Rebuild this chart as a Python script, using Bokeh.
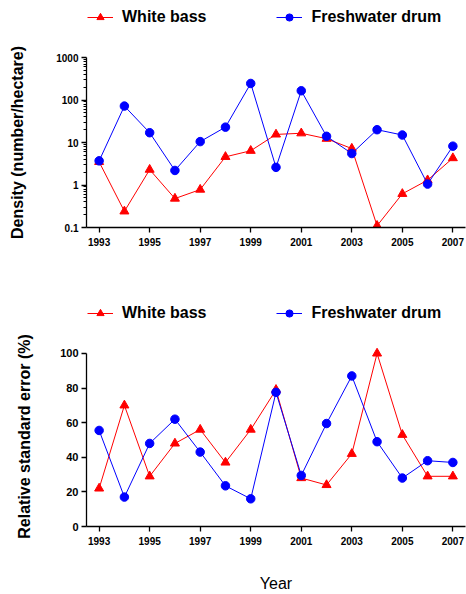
from bokeh.plotting import figure
from bokeh.models import (FixedTicker, CustomJSTickFormatter, Legend, LegendItem)
from bokeh.layouts import column
from bokeh.embed import file_html
from bokeh.resources import INLINE

years = [1993, 1994, 1995, 1996, 1997, 1998, 1999, 2000, 2001, 2002, 2003, 2004, 2005, 2006, 2007]
year_ticks = [1993, 1995, 1997, 1999, 2001, 2003, 2005, 2007]

# Density (number/hectare)
density_white_bass = [3.5, 0.24, 2.3, 0.48, 0.78, 4.6, 6.4, 15.5, 16.5, 12.3, 7.2, 0.11, 0.62, 1.3, 4.3]
density_freshwater_drum = [3.7, 72, 17, 2.2, 10.5, 23, 245, 2.6, 165, 14, 5.5, 20, 15, 1.05, 8.2]
density_ticks = [0.1, 1, 10, 100, 1000]

# Relative standard error (%)
rse_white_bass = [22, 70, 29, 48, 56, 37, 56, 79, 28, 24, 42, 100, 53, 29, 29]
rse_freshwater_drum = [55.5, 17, 48, 62, 43, 23.5, 16, 77.5, 29.5, 59.5, 87, 49, 28, 38, 37]
rse_ticks = [0, 20, 40, 60, 80, 100]

series_names = ["White bass", "Freshwater drum"]

RED = "#ff0000"
BLUE = "#0000ff"
FONT = "Liberation Sans"
W = 466


def legend_fig(height, wb, fd):
    # Holds only the legend; its renderers lie outside the visible ranges.
    f = figure(width=W, height=height, x_range=(0, 1), y_range=(0, 1),
               x_axis_location=None, y_axis_location=None,
               output_backend="svg", toolbar_location=None)
    f.min_border_left = 86
    f.min_border_right = 1
    f.min_border_top = 0
    f.min_border_bottom = 0
    f.xgrid.grid_line_color = None
    f.ygrid.grid_line_color = None
    f.outline_line_color = None
    r1 = f.line(years, wb, line_color=RED, line_width=1)
    s1 = f.scatter(years, wb, marker="triangle", fill_color=RED, line_color=RED)
    r2 = f.line(years, fd, line_color=BLUE, line_width=1)
    s2 = f.scatter(years, fd, marker="circle", fill_color=BLUE, line_color=BLUE)
    legend = Legend(items=[LegendItem(label=series_names[0], renderers=[r1, s1]),
                           LegendItem(label=series_names[1], renderers=[r2, s2])],
                    orientation="horizontal", location=(1, 0),
                    glyph_width=26, glyph_height=18, label_height=18,
                    label_standoff=9, spacing=70, padding=0, margin=0,
                    border_line_color=None, background_fill_alpha=0,
                    label_text_font=FONT, label_text_font_style="bold",
                    label_text_font_size="16px", label_text_color="black")
    f.add_layout(legend, "center")
    return f


def style(p, y_label, label_standoff, y_font_size):
    p.xaxis.ticker = FixedTicker(ticks=year_ticks)
    p.xaxis.major_label_text_font = FONT
    p.xaxis.major_label_text_font_style = "bold"
    p.xaxis.major_label_text_font_size = "10px"
    p.xaxis.major_label_standoff = 5
    p.xaxis.major_tick_in = 0
    p.xaxis.major_tick_out = 5
    p.xaxis.minor_tick_out = 0
    p.xaxis.minor_tick_in = 0
    for ax in (p.xaxis, p.yaxis):
        ax.axis_line_color = "black"
        ax.axis_line_width = 1.3
        ax.major_tick_line_color = "black"
        ax.major_tick_line_width = 1.3
        ax.major_label_text_color = "black"
    p.yaxis.major_label_text_font = FONT
    p.yaxis.major_label_text_font_style = "bold"
    p.yaxis.major_label_text_font_size = y_font_size
    p.yaxis.major_label_standoff = 3
    p.yaxis.major_tick_in = 0
    p.yaxis.major_tick_out = 5
    p.yaxis.axis_label = y_label
    p.yaxis.axis_label_text_font = FONT
    p.yaxis.axis_label_text_font_style = "bold"
    p.yaxis.axis_label_text_font_size = "16px"
    p.yaxis.axis_label_text_color = "black"
    p.yaxis.axis_label_standoff = label_standoff
    p.xgrid.grid_line_color = None
    p.ygrid.grid_line_color = None
    p.outline_line_color = None
    p.min_border_left = 86
    p.min_border_right = 1
    p.min_border_top = 31


def add_series(p, wb, fd):
    p.line(years, wb, line_color=RED, line_width=1)
    p.scatter(years, wb, marker="triangle", size=9, fill_color=RED, line_color=RED)
    p.line(years, fd, line_color=BLUE, line_width=1)
    p.scatter(years, fd, marker="circle", size=8.5, fill_color=BLUE, line_color=BLUE)


l1 = legend_fig(26, density_white_bass, density_freshwater_drum)

p1 = figure(width=W, height=254, y_axis_type="log",
            x_range=(1992.5, 2007.5), y_range=(0.1, 1000),
            output_backend="svg", toolbar_location=None)
add_series(p1, density_white_bass, density_freshwater_drum)
style(p1, "Density (number/hectare)", 27, "10px")
p1.min_border_bottom = 53
p1.yaxis.ticker = FixedTicker(ticks=density_ticks,
                              minor_ticks=[m * 10.0 ** e for e in range(-1, 3) for m in range(2, 10)])
p1.yaxis.formatter = CustomJSTickFormatter(code="return tick < 1 ? tick.toFixed(1) : tick.toFixed(0);")
p1.yaxis.minor_tick_in = 0
p1.yaxis.minor_tick_out = 3
p1.yaxis.minor_tick_line_color = "black"

l2 = legend_fig(42, rse_white_bass, rse_freshwater_drum)

# a little headroom above 100 so the top marker is not clipped; axis stops at 100
p2 = figure(width=W, height=272,
            x_range=(1992.5, 2007.5), y_range=(0, 104),
            output_backend="svg", toolbar_location=None)
add_series(p2, rse_white_bass, rse_freshwater_drum)
style(p2, "Relative standard error (%)", 24, "11px")
p2.min_border_top = 24
p2.min_border_bottom = 68
p2.yaxis.bounds = (0, 100)
p2.yaxis.ticker = FixedTicker(ticks=rse_ticks)
p2.yaxis.minor_tick_out = 0
p2.yaxis.minor_tick_in = 0
p2.xaxis.axis_label = "Year"
p2.xaxis.axis_label_text_font = FONT
p2.xaxis.axis_label_text_font_style = "normal"
p2.xaxis.axis_label_text_font_size = "16px"
p2.xaxis.axis_label_text_color = "black"
p2.xaxis.axis_label_standoff = 27

layout = column(l1, p1, l2, p2, spacing=0)
open("out.html", "w").write(file_html(layout, INLINE))
